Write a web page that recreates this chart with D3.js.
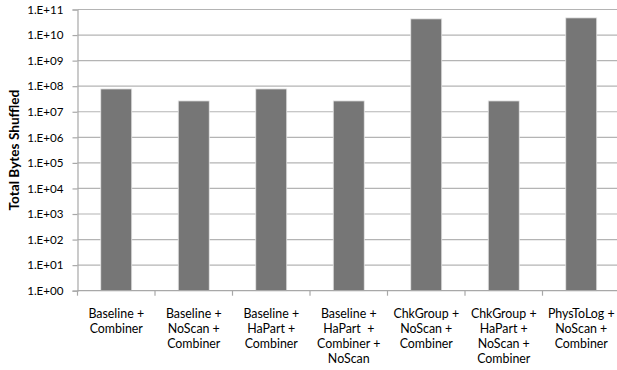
<!DOCTYPE html>
<html>
<head>
<meta charset="utf-8">
<script src="https://cdn.jsdelivr.net/npm/d3@7"></script>
<style>
  html, body { margin: 0; padding: 0; background: #fff; }
  svg { display: block; }
  text { font-family: Lato, "Open Sans", "Liberation Sans", sans-serif; fill: #000; }
</style>
</head>
<body>
<svg id="chart" width="617" height="370"></svg>
<script>
// Configurations (each label split into its printed lines)
const categories = [
  ["Baseline +", "Combiner"],
  ["Baseline +", "NoScan +", "Combiner"],
  ["Baseline +", "HaPart +", "Combiner"],
  ["Baseline +", "HaPart  +", "Combiner +", "NoScan"],
  ["ChkGroup +", "NoScan +", "Combiner"],
  ["ChkGroup +", "HaPart +", "NoScan +", "Combiner"],
  ["PhysToLog +", "NoScan +", "Combiner"]
];

// Total bytes shuffled per configuration
const bytesShuffled = [7.8e7, 2.65e7, 7.8e7, 2.65e7, 4.3e10, 2.65e7, 4.7e10];

// Decade ticks on the log axis
const tickValues = [1e0, 1e1, 1e2, 1e3, 1e4, 1e5, 1e6, 1e7, 1e8, 1e9, 1e10, 1e11];
const tickLabels = ["1.E+00", "1.E+01", "1.E+02", "1.E+03", "1.E+04", "1.E+05",
                    "1.E+06", "1.E+07", "1.E+08", "1.E+09", "1.E+10", "1.E+11"];

const svg = d3.select("#chart");
const plotLeft = 77.5, plotRight = 620, plotTop = 9.5, plotBottom = 290.7;

const x = d3.scaleBand()
  .domain(d3.range(categories.length))
  .range([plotLeft, plotRight])
  .paddingInner(0.6)
  .paddingOuter(0.3);

const y = d3.scaleLog()
  .domain([1e0, 1e11])
  .range([plotBottom, plotTop]);

// Horizontal gridlines
svg.append("g")
  .selectAll("line")
  .data(tickValues.slice(1))
  .join("line")
  .attr("x1", plotLeft)
  .attr("x2", plotRight)
  .attr("y1", d => y(d))
  .attr("y2", d => y(d))
  .attr("stroke", "#b4b4b4")
  .attr("stroke-width", 1.2);

// Bars
svg.append("g")
  .selectAll("rect")
  .data(bytesShuffled)
  .join("rect")
  .attr("x", (d, i) => x(i))
  .attr("width", x.bandwidth())
  .attr("y", d => y(d))
  .attr("height", d => plotBottom - y(d))
  .attr("fill", "#767676")
  .attr("stroke", "#e6e6e6")
  .attr("stroke-width", 0.8);

// Y axis
const yAxis = d3.axisLeft(y)
  .tickValues(tickValues)
  .tickFormat((d, i) => tickLabels[i])
  .tickSize(5)
  .tickPadding(9);

const yg = svg.append("g")
  .attr("transform", `translate(${plotLeft},0)`)
  .call(yAxis);
yg.select(".domain").attr("stroke", "#a8a8a8").attr("stroke-width", 1.2);
yg.selectAll(".tick line").attr("stroke", "#a8a8a8").attr("stroke-width", 1.2);
yg.selectAll(".tick text")
  .attr("font-size", 11.6)
  .attr("font-family", "Lato, 'Open Sans', sans-serif")
  .attr("fill", "#000");

// X axis baseline with boundary ticks between categories
const boundaries = d3.range(categories.length + 1)
  .map(i => plotLeft + i * (plotRight - plotLeft) / categories.length);
const xg = svg.append("g");
xg.append("line")
  .attr("x1", plotLeft).attr("x2", plotRight)
  .attr("y1", plotBottom).attr("y2", plotBottom)
  .attr("stroke", "#a8a8a8").attr("stroke-width", 1.2);
xg.selectAll("line.b")
  .data(boundaries)
  .join("line")
  .attr("class", "b")
  .attr("x1", d => d).attr("x2", d => d)
  .attr("y1", plotBottom).attr("y2", plotBottom + 5)
  .attr("stroke", "#a8a8a8").attr("stroke-width", 1.2);

// Category labels
const labels = svg.append("g")
  .selectAll("text")
  .data(categories)
  .join("text")
  .attr("text-anchor", "middle")
  .attr("font-size", 12.4)
  .attr("x", (d, i) => x(i) + x.bandwidth() / 2)
  .attr("y", 318);
labels.selectAll("tspan")
  .data(d => d)
  .join("tspan")
  .attr("x", function () { return d3.select(this.parentNode).attr("x"); })
  .attr("dy", (d, i) => i === 0 ? 0 : 15)
  .style("white-space", "pre")
  .text(d => d);

// Y axis title
svg.append("text")
  .attr("transform", `translate(19,${(plotTop + plotBottom) / 2}) rotate(-90)`)
  .attr("text-anchor", "middle")
  .attr("font-size", 13.6)
  .attr("font-weight", "bold")
  .text("Total Bytes Shuffled");
</script>
</body>
</html>
